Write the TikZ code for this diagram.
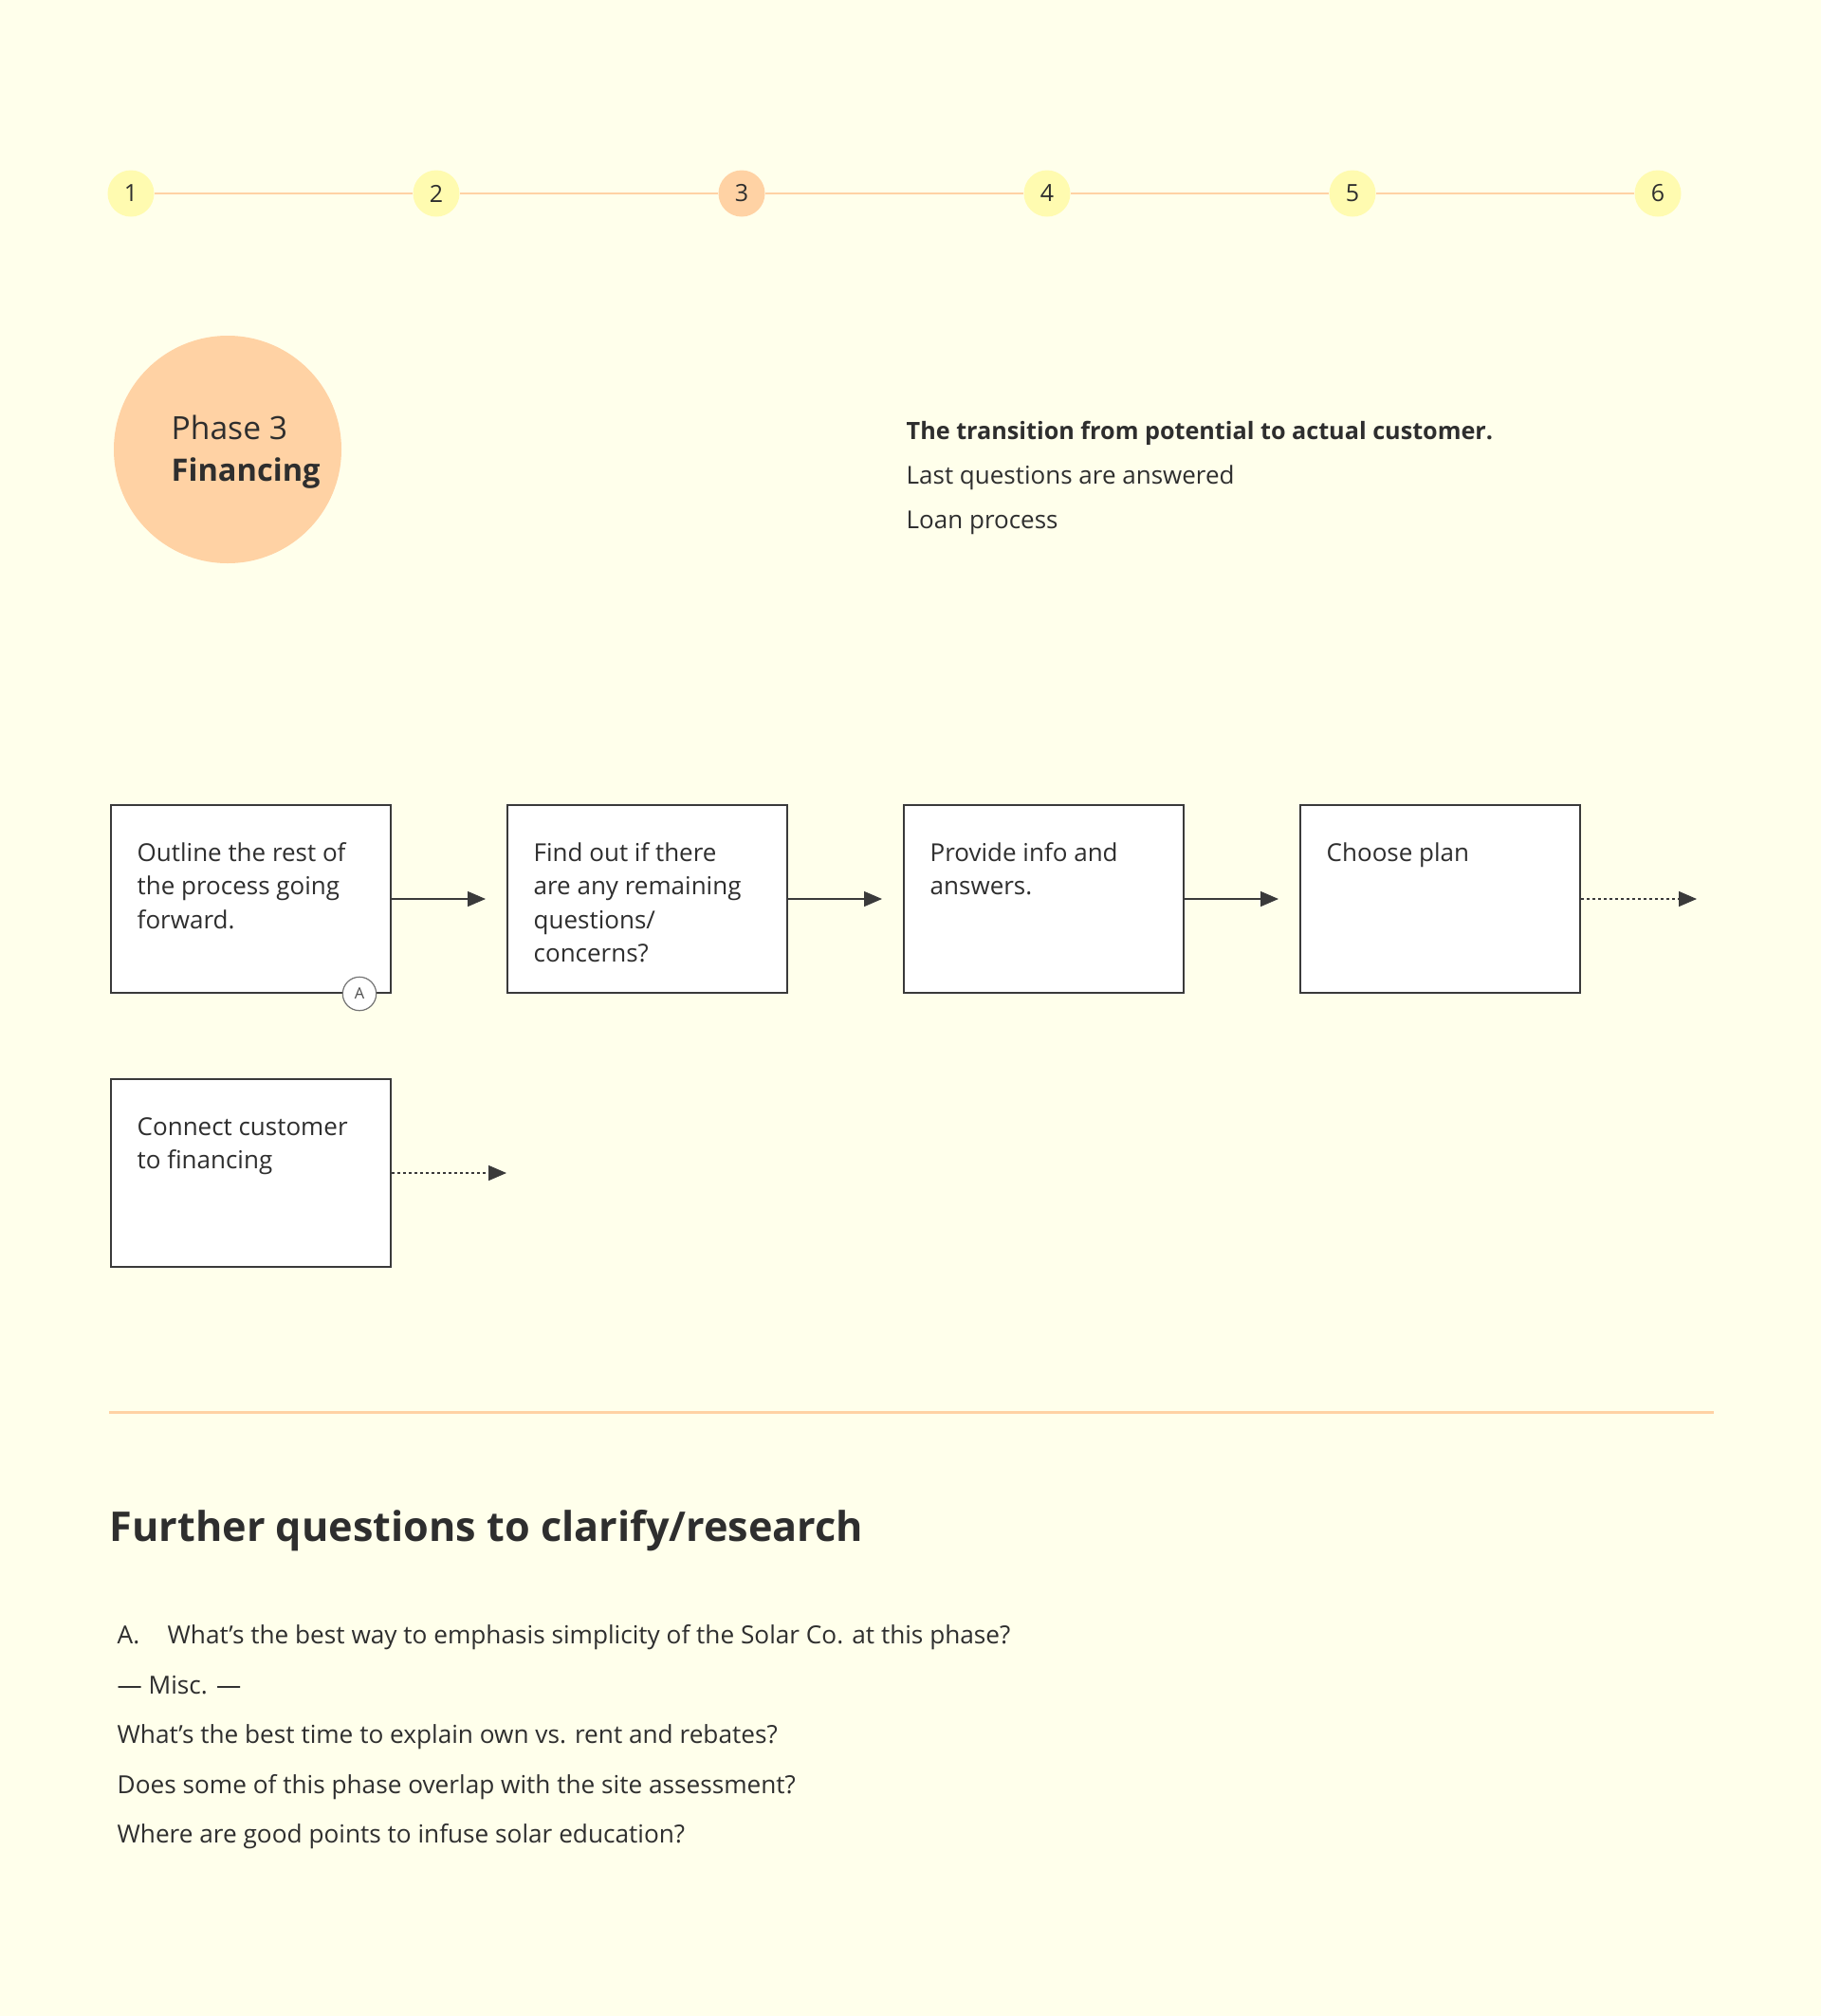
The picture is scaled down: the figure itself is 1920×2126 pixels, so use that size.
\documentclass[tikz,border=0pt]{standalone}
\usepackage{fontspec}
\setmainfont{Open Sans}
\usetikzlibrary{arrows.meta,positioning}
\definecolor{paper}{HTML}{FFFFEB}
\definecolor{dotyellow}{HTML}{FFFBB0}
\definecolor{peach}{HTML}{FFD2A4}
\definecolor{ink}{HTML}{2E2E2E}
\definecolor{edge}{HTML}{3A3A3A}

\begin{document}
\begin{tikzpicture}[x=0.5pt,y=-0.5pt,line width=0.7pt,>={Triangle[length=9.5pt,width=8pt]},
  dot/.style={circle,minimum size=24.5pt,inner sep=0pt,text=ink,font=\fontsize{12.5}{14}\selectfont},
  track/.style={draw=peach,line width=1pt},
  stepbox/.style={draw=edge,fill=white,line width=1pt,minimum width=147.5pt,minimum height=99pt,inner sep=0pt},
  steptext/.style={anchor=base west,inner sep=0pt,text=ink,font=\fontsize{13}{17.75}\selectfont},
  plain/.style={anchor=base west,inner sep=0pt,text=ink},
  flow/.style={->,draw=edge,line width=0.7pt,shorten >=11pt},
  later/.style={->,draw=edge,line width=0.7pt,dash pattern=on 1.6pt off 1.4pt},
  marker/.style={circle,draw=black!55,fill=white,line width=0.6pt,minimum size=17.7pt,inner sep=0pt,
    text=black!70,font=\fontsize{8.2}{9}\selectfont}]
% ---------- page ----------
\fill[paper] (0,0) rectangle (1920,2126);
\useasboundingbox (0,0) rectangle (1920,2126);
% ---------- phase track ----------
\foreach \n/\c in {1/dotyellow,2/dotyellow,3/peach,4/dotyellow,5/dotyellow,6/dotyellow}{
  \pgfmathsetmacro{\xx}{138+322*(\n-1)}
  \node[dot,fill=\c] (t\n) at (\xx,204) {\n};}
\foreach \a/\b in {1/2,2/3,3/4,4/5,5/6}
  \draw[track] (t\a) -- (t\b);
% ---------- phase title ----------
\node[circle,fill=peach,minimum size=120pt,inner sep=0pt] (phase) at (240,474) {};
\node[plain,font=\fontsize{16.8}{22}\selectfont] (phasetext) at (180,463)
  {\parbox[t]{110pt}{Phase 3\\{\fontsize{16.3}{22}\selectfont\bfseries Financing}}};
\node[plain,font=\fontsize{12.6}{14}\selectfont\bfseries] (goal) at (955,463)
  {The transition from potential to actual customer.};
\node[plain,font=\fontsize{13}{14}\selectfont] (goal2) at (955,510) {Last questions are answered};
\node[plain,font=\fontsize{13}{14}\selectfont] (goal3) at (955,557) {Loan process};
% ---------- steps ----------
\node[stepbox] (b1) at (264.5,948) {};
\node[stepbox,right=60.5pt of b1] (b2) {};
\node[stepbox,right=60.5pt of b2] (b3) {};
\node[stepbox,right=60.5pt of b3] (b4) {};
\node[stepbox,below=44.5pt of b1] (b5) {};
\node[steptext] (b1t) at ([shift={(28,60)}]b1.north west)
  {\parbox[t]{135pt}{Outline the rest of\\the process going\\forward.}};
\node[steptext] (b2t) at ([shift={(28,60)}]b2.north west)
  {\parbox[t]{135pt}{Find out if there\\are any remaining\\questions/\\concerns?}};
\node[steptext] (b3t) at ([shift={(28,60)}]b3.north west)
  {\parbox[t]{135pt}{Provide info and\\answers.}};
\node[steptext] (b4t) at ([shift={(28,60)}]b4.north west) {Choose plan};
\node[steptext] (b5t) at ([shift={(28,60)}]b5.north west)
  {\parbox[t]{135pt}{Connect customer\\to financing}};
\foreach \a/\b in {1/2,2/3,3/4}
  \draw[flow] (b\a) -- (b\b);
\coordinate[right=61pt of b4] (e4);
\coordinate[right=60.5pt of b5] (e5);
\draw[later] (b4) -- (e4);
\draw[later] (b5) -- (e5);
\node[marker] (mA) at ([xshift=-17pt]b1.south east) {A};
% ---------- questions ----------
\draw[draw=peach,line width=1.5pt] (115,1489) -- (1807,1489);
\node[plain,font=\fontsize{21.6}{26}\selectfont\bfseries] (head) at (115,1625) {Further questions to clarify/research};
\node[plain,font=\fontsize{13.1}{14}\selectfont] (qA) at (123,1733) {A.};
\node[plain,font=\fontsize{13.1}{14}\selectfont] (qAt) at (176,1733) {What’s the best way to emphasis simplicity of the Solar Co. at this phase?};
\node[plain,font=\fontsize{13.1}{14}\selectfont] (misc) at (123,1786) {— Misc. —};
\node[plain,font=\fontsize{13.1}{14}\selectfont] (q1) at (123,1838) {What’s the best time to explain own vs. rent and rebates?};
\node[plain,font=\fontsize{13.1}{14}\selectfont] (q2) at (123,1891) {Does some of this phase overlap with the site assessment?};
\node[plain,font=\fontsize{13.1}{14}\selectfont] (q3) at (123,1943) {Where are good points to infuse solar education?};
\end{tikzpicture}
\end{document}
